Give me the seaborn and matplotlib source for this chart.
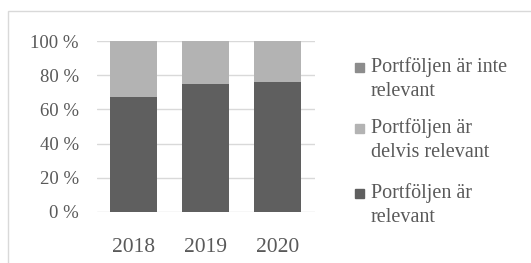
import seaborn as sns
import matplotlib.pyplot as plt
import pandas as pd
from matplotlib.patches import Rectangle

years = ["2018", "2019", "2020"]
relevant = [67, 75, 76]
delvis = [33, 25, 24]
inte = [0, 0, 0]
labels = ["Portföljen är inte\nrelevant", "Portföljen är\ndelvis relevant", "Portföljen är\nrelevant"]
colors = ["#8c8c8c", "#b3b3b3", "#5f5f5f"]

sns.set_theme(style="white")
plt.rcParams["font.family"] = ["Liberation Serif", "DejaVu Serif"]
txt = "#595959"

df = pd.DataFrame({"year": years, "relevant": relevant, "delvis": delvis, "inte": inte})
df["top2"] = df["relevant"] + df["delvis"]
df["top3"] = df["top2"] + df["inte"]

W, H = 531, 263
fig = plt.figure(figsize=(W / 100, H / 100), dpi=100)
ax = fig.add_axes([97 / W, 1 - 212 / H, 218 / W, 171 / H])

# stacked bars, drawn tallest first
for col, c in zip(["top3", "top2", "relevant"], colors):
    sns.barplot(data=df, x="year", y=col, color=c, width=0.65, saturation=1,
                linewidth=0, ax=ax)

ax.set_ylim(0, 100)
ax.set_yticks(range(0, 101, 20))
ax.set_yticklabels([f"{v} %" for v in range(0, 101, 20)], color=txt, fontsize=13.5)
ax.set_xticklabels(years, color=txt, fontsize=15.5)
ax.set_xlabel("")
ax.set_ylabel("")
ax.yaxis.grid(True, color="#d9d9d9", lw=1)
ax.set_axisbelow(True)
for s in ax.spines.values():
    s.set_visible(False)
ax.tick_params(axis="y", length=0, pad=13)
ax.tick_params(axis="x", length=0, pad=19)
ax.set_xlim(-0.507, 2.52)

# legend: square aligned with first line of each label
leg_y = [67, 128, 193]
for lab, c, y in zip(labels, colors, leg_y):
    fig.patches.append(Rectangle((355 / W, 1 - (y + 5) / H), 9 / W, 9 / H,
                                 transform=fig.transFigure, color=c))
    fig.text(371 / W, 1 - (y - 10) / H, lab, fontsize=14.5, color=txt, va="top",
             linespacing=1.35)

# chart frame
fig.patches.append(Rectangle((8 / W, -0.01), 1.0, 1 - 11 / H + 0.01, transform=fig.transFigure,
                             fill=False, edgecolor="#d9d9d9", lw=1))
# cut-off title above frame
fig.text(0.213, 1.035, "g", fontsize=12, family="DejaVu Sans", color="black", va="baseline")

fig.savefig("out.png", dpi=100)
